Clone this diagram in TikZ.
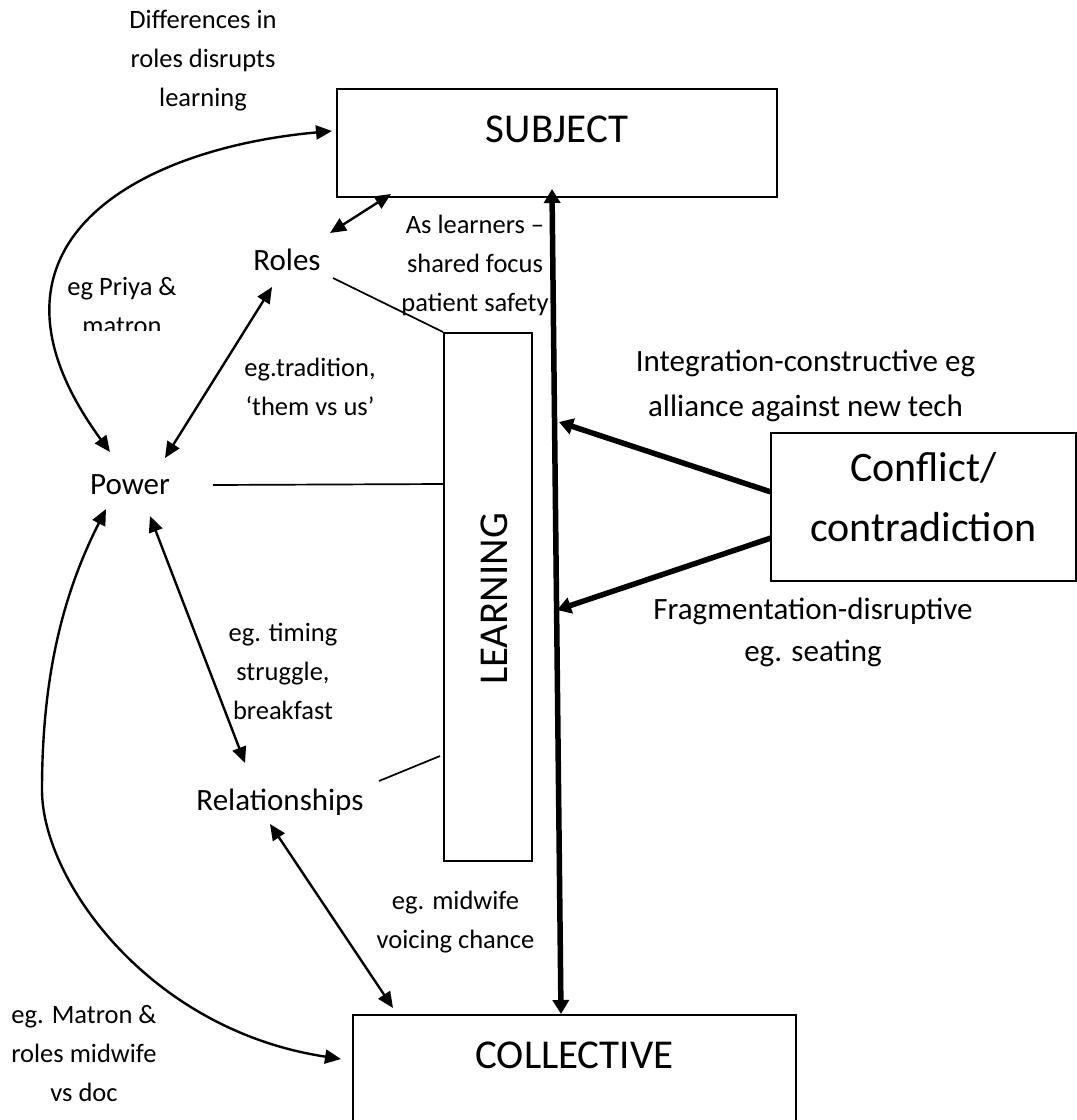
\documentclass[tikz,border=0pt]{standalone}
\usepackage{fontspec}
\setmainfont{Carlito}
\usetikzlibrary{arrows.meta,calc}

\tikzset{
  box/.style={draw, line width=2pt, inner sep=0pt},
  lbl/.style={align=center, font=\fontsize{26.5}{39}\selectfont, inner sep=0pt},
  term/.style={font=\fontsize{31}{37}\selectfont, inner sep=0pt, anchor=base},
  bigtext/.style={font=\fontsize{41}{50}\selectfont},
  link/.style={line width=2.4pt, {Triangle[length=16pt,width=14pt]}-{Triangle[length=16pt,width=14pt]}},
  tie/.style={line width=1.7pt},
  heavy/.style={line width=5.5pt, -{Triangle[length=14pt,width=16pt]}},
  heavyboth/.style={line width=5.5pt, {Triangle[length=14pt,width=16pt]}-{Triangle[length=14pt,width=16pt]}},
}

\begin{document}
\begin{tikzpicture}[x=1pt,y=-1pt]
\useasboundingbox (0,0) rectangle (1077,1120);
\clip (0,0) rectangle (1077,1120);

% main boxes
\node[box, bigtext, minimum width=440pt, minimum height=108pt,
      text height=13pt, text depth=15pt] (subj) at (557,143) {SUBJECT};
\node[box, bigtext, anchor=north, minimum width=443pt,
      text height=53pt, text depth=100pt] (coll) at (574.5,1014) {COLLECTIVE};
\node[box, minimum width=88pt, minimum height=528pt] (learn) at (488,597) {};
\node[bigtext, rotate=90, inner sep=0pt, text height=26pt, text depth=0pt]
      (learntxt) at (494.5,599) {LEARNING};
\node[box, minimum width=305pt, minimum height=148pt] (conf) at (923.5,507) {};
\node[align=center, font=\fontsize{42}{60}\selectfont, inner sep=0pt]
      (conftxt) at (923.5,497.5) {Conflict/\\contradiction};

% mediating terms
\node[term] (roles) at (287,270) {Roles};
\node[term] (power) at (130,494) {Power};
\node[term] (rel) at (280,810) {Relationships};

% example labels
\node[lbl] (ldiff) at (203,61) {Differences in\\roles disrupts\\learning};
\begin{scope}
  \clip (0,0) rectangle (1077,330);
  \node[lbl] (lpriya) at (122,305.5) {eg Priya \&\\matron};
\end{scope}
\node[lbl] (llearn) at (475,265.75) {As learners –\\shared focus\\patient safety};
\node[lbl] (ltrad) at (310,387) {eg.tradition,\\‘them vs us’};
\node[lbl] (ltime) at (283,671) {eg. timing\\struggle,\\breakfast};
\node[lbl] (lmid) at (455.5,921.75) {eg. midwife\\voicing chance};
\node[lbl] (lmat) at (84,1054) {eg. Matron \&\\roles midwife\\vs doc};
\node[align=center, font=\fontsize{31}{45}\selectfont, inner sep=0pt]
      (lint) at (805.5,385.75) {Integration-constructive eg\\alliance against new tech};
\node[align=center, font=\fontsize{31}{42}\selectfont, inner sep=0pt]
      (lfrag) at (813,632) {Fragmentation-disruptive\\eg. seating};

% connectors
\draw[link] ($(subj.west)+(-4,-12)$) .. controls +(-199,18) and +(-150,-205) ..
      ($(power.base)+(-20,-42)$);
\draw[link] ($(roles.base)+(43,-37)$) -- ($(subj.south west)+(55,-4)$);
\draw[tie] ($(roles.base)+(46,8)$) -- (learn.north west);
\draw[link] ($(roles.base)+(-15,17)$) -- ($(power.base)+(35,-36)$);
\draw[tie] ($(power.base)+(83,-9)$) -- ($(learn.north west)+(0,152)$);
\draw[link] ($(power.base)+(20,22)$) -- ($(rel.base)+(-35,-47)$);
\draw[tie] ($(rel.base)+(99,-29)$) -- ($(learn.north west)+(-3,424)$);
\draw[link] ($(rel.base)+(-10,14)$) -- ($(coll.north west)+(41,-6)$);

\coordinate (bend) at (42,790);
\draw[link] ($(power.base)+(-24,15)$) .. controls +(-40.5,80) and +(0,-120) .. (bend)
      .. controls +(0,90) and +(-192,-29) .. ($(coll.north west)+(-11,45)$);

\draw[heavyboth] ($(subj.south)+(-5,-9)$) -- ($(coll.north)+(-13.5,0)$);
\coordinate (hitint) at (559,422);
\coordinate (hitfrag) at (557,610);
\draw[heavy] ($(conf.west)+(1,-15)$) -- (hitint);
\draw[heavy] ($(conf.west)+(1,31)$) -- (hitfrag);
\end{tikzpicture}
\end{document}
